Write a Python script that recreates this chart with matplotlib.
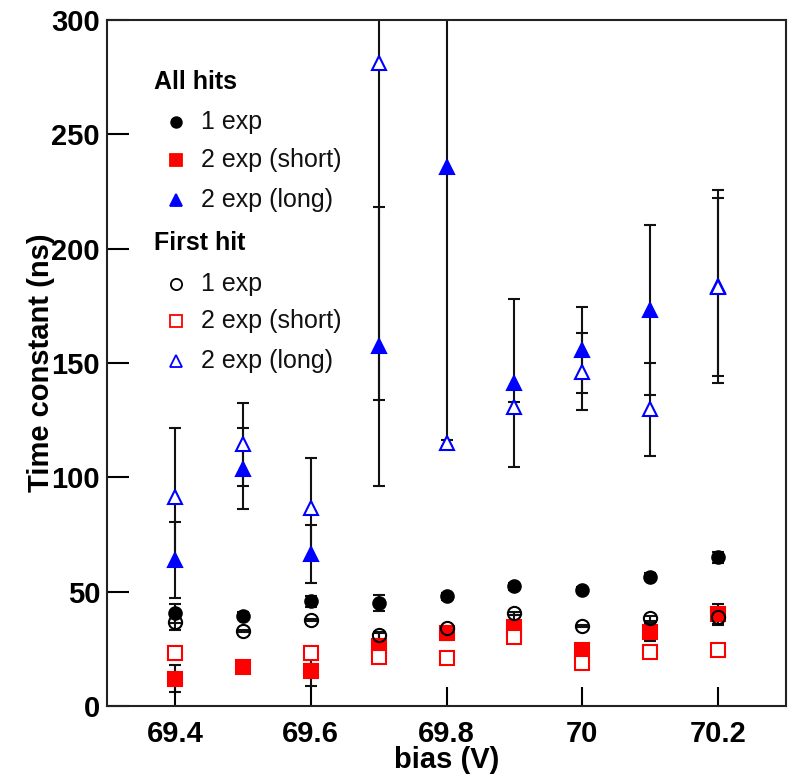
import matplotlib
matplotlib.use("Agg")
import matplotlib.pyplot as plt
from matplotlib.ticker import FormatStrFormatter

plt.rcParams["font.family"] = ["Liberation Sans", "DejaVu Sans"]

nan = float("nan")
bias = [69.4, 69.5, 69.6, 69.7, 69.8, 69.9, 70.0, 70.1, 70.2]

# All hits
all_1exp = [40.5, 39.4, 45.8, 44.9, 47.9, 52.3, 50.7, 56.6, 65.0]
all_1exp_err = [4.0, 1.5, 2.5, 3.5, 1.5, 1.5, 1.5, 1.5, 2.5]
all_short = [12.0, 17.0, 15.2, 26.4, 31.8, 34.7, 24.3, 32.5, 40.2]
all_short_err = [6.0, 1.0, 6.4, 5.5, 3.0, 5.0, 1.0, 4.0, 4.6]
all_long = [63.8, 103.8, 66.5, 157.4, 235.7, 141.3, 155.7, 173.2, 183.6]
all_long_err = [16.7, 17.8, 12.6, 61.0, 122.0, 36.6, 18.7, 37.2, 42.2]

# First hit
first_1exp = [36.6, 32.9, 37.6, 31.0, 34.0, 40.5, 35.1, 38.3, 39.0]
first_1exp_err = [3.5, 0.5, 0.5, 1.5, 0.5, 0.5, 0.5, 1.0, 3.0]
first_short = [23.0, nan, 23.0, 21.3, 20.8, 30.3, 18.9, 23.7, 24.5]
first_short_err = [0.5, 0.5, 0.5, 0.5, 0.5, 0.5, 0.5, 0.5, 0.5]
first_long = [91.5, 114.4, 86.5, 281.0, 114.9, 130.9, 146.2, 129.7, 183.3]
first_long_err = [30.2, 18.0, 21.8, 147.0, 1.5, 2.0, 16.8, 20.4, 39.0]

fig = plt.figure(figsize=(7.89, 7.75), dpi=100)
ax = fig.add_axes([107 / 789, 69 / 775, 679 / 789, 686 / 775])

series = [
    (all_1exp, all_1exp_err, "o", "black", "black", 9, "1 exp"),
    (all_short, all_short_err, "s", "red", "red", 9.5, "2 exp (short)"),
    (all_long, all_long_err, "^", "blue", "blue", 9.5, "2 exp (long)"),
    (first_1exp, first_1exp_err, "o", "black", "none", 9.5, "1 exp"),
    (first_short, first_short_err, "s", "red", "white", 9.5, "2 exp (short)"),
    (first_long, first_long_err, "^", "blue", "white", 10, "2 exp (long)"),
]

for vals, errs, m, ec, fc, ms, lab in series:
    ax.errorbar(bias, vals, yerr=errs, fmt="none", ecolor="#111111",
                elinewidth=1.5, capsize=4, capthick=1.5, zorder=1)

for i, (vals, errs, m, ec, fc, ms, lab) in enumerate(series):
    ax.plot(bias, vals, linestyle="none", marker=m, markersize=ms,
            markerfacecolor=fc, markeredgecolor=ec, markeredgewidth=1.5,
            zorder=2 + i)

ax.set_xlim(69.3, 70.3)
ax.set_ylim(0, 300)
ax.set_xticks([69.4, 69.6, 69.8, 70.0, 70.2])
ax.set_yticks([0, 50, 100, 150, 200, 250, 300])
ax.xaxis.set_major_formatter(FormatStrFormatter("%g"))
ax.tick_params(axis="y", direction="in", length=16, width=1.5, pad=5,
               labelsize=21)
ax.tick_params(axis="x", direction="in", length=14, width=1.5, pad=10,
               labelsize=21)
for lbl in ax.get_xticklabels() + ax.get_yticklabels():
    lbl.set_fontweight("bold")
for sp in ax.spines.values():
    sp.set_linewidth(1.5)
    sp.set_color("#222222")

ax.set_xlabel("bias (V)", fontsize=21, fontweight="bold", labelpad=-1)
ax.set_ylabel("Time constant (ns)", fontsize=21, fontweight="bold", labelpad=-3)

# hand-made legend, in pixel positions of the figure
def px(x, y):
    return (x - 107) / 679, (706 - y) / 686

heads = [("All hits", 82), ("First hit", 243)]
for txt, y in heads:
    ax.text(*px(154, y), txt, transform=ax.transAxes, fontsize=18,
            fontweight="bold", va="center", ha="left")

rows = [122, 160, 200, 284, 321, 361]
for (vals, errs, m, ec, fc, ms, lab), y in zip(series, rows):
    ax.plot(*px(176, y), transform=ax.transAxes, marker=m,
            markersize=ms * 0.85, markerfacecolor=fc, markeredgecolor=ec,
            markeredgewidth=1.3, linestyle="none", zorder=10)
    ax.text(*px(201, y), lab, transform=ax.transAxes, fontsize=18,
            va="center", ha="left", color="#111111")

fig.savefig("out.png", dpi=100)
